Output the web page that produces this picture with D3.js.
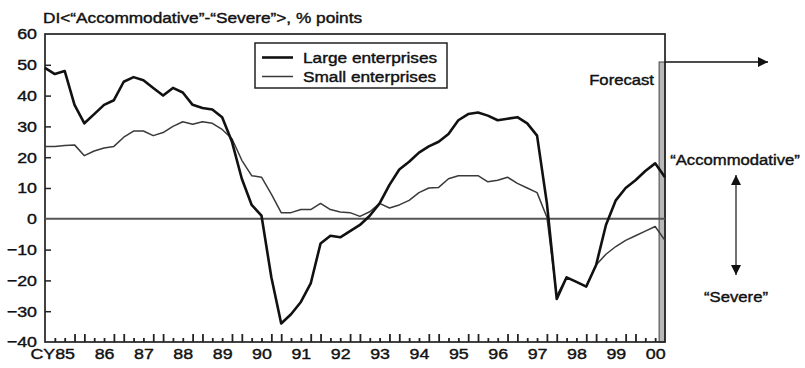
<!DOCTYPE html>
<html>
<head>
<meta charset="utf-8">
<script src="https://cdn.jsdelivr.net/npm/d3@7"></script>
<style>
  body { margin: 0; background: #fff; }
  svg { display: block; }
  text { font-family: Arial, "Liberation Sans", Helvetica, sans-serif; fill: #111; stroke: #111; stroke-width: 0.4px; }
</style>
</head>
<body>
<svg id="chart" width="805" height="368"></svg>
<script>
// Lending attitude DI of financial institutions, quarterly, CY1985 Q1 to 2000 Q4 (last point is a forecast)
const yearLabels = ["CY85", "86", "87", "88", "89", "90", "91", "92", "93", "94", "95", "96", "97", "98", "99", "00"];
const yTicks = [-40, -30, -20, -10, 0, 10, 20, 30, 40, 50, 60];
const seriesNames = ["Large enterprises", "Small enterprises"];

const large = [
  49, 47, 48, 37, 31, 34, 37, 38.5,
  44.5, 46, 45, 42.5, 40, 42.5, 41, 37,
  36, 35.5, 33, 25, 13, 4.5, 1, -19,
  -34, -31, -27, -21, -8, -5.5, -6, -4,
  -2, 1, 5, 11, 16, 18.5, 21.5, 23.5,
  25, 27.5, 32, 34, 34.5, 33.5, 32, 32.5,
  33, 31, 27, 5, -26, -19, -20.5, -22,
  -15, -2, 6, 10, 12.5, 15.5, 18, 13.5
];
const small = [
  23.5, 23.5, 23.8, 24, 20.5, 22, 23, 23.5,
  26.5, 28.5, 28.5, 27, 28, 30, 31.5, 30.7,
  31.5, 31, 29, 26, 19, 14, 13.5, 8,
  2, 2, 3, 3, 5, 3, 2.2, 2,
  0.8, 2.3, 5, 3.5, 4.5, 6, 8.5, 10,
  10.2, 13, 14, 14, 14, 12, 12.5, 13.5,
  11.5, 10, 8.5, 0.5, -25, -19, -20.5, -22,
  -15, -11.5, -9, -7, -5.5, -4, -2.5, -7
];

const time = large.map((_, i) => 1985 + i / 4);   // survey quarter of each value
const SX = 1.15;                                    // horizontal stretch of lettering

const svg = d3.select("#chart");
const x = d3.scaleLinear().domain([1985, 2000.75]).range([45, 665]);
const y = d3.scaleLinear().domain([-40, 60]).range([342, 34]);

// helper: text with a horizontal stretch anchored at (px, py)
function label(px, py, str, size, anchor) {
  svg.append("g").attr("transform", `translate(${px},${py})`)
    .append("text")
    .attr("transform", `scale(${SX},1)`)
    .attr("text-anchor", anchor || "start")
    .attr("font-size", size)
    .text(str);
}

// title
label(43, 23, "DI<\u201CAccommodative\u201D-\u201CSevere\u201D>, % points", 15);

// forecast shading bar
svg.append("rect")
  .attr("x", x(2000.6)).attr("y", 62)
  .attr("width", x(2000.75) - x(2000.6)).attr("height", y(-40) - 62)
  .attr("fill", "#b8b8b8").attr("stroke", "#444").attr("stroke-width", 1);

// frame
svg.append("rect")
  .attr("x", x(1985)).attr("y", y(60))
  .attr("width", x(2000.75) - x(1985)).attr("height", y(-40) - y(60))
  .attr("fill", "none").attr("stroke", "#222").attr("stroke-width", 1.7);

// zero line
svg.append("line")
  .attr("x1", x(1985)).attr("x2", x(2000.75))
  .attr("y1", y(0)).attr("y2", y(0))
  .attr("stroke", "#555").attr("stroke-width", 2);

// y axis: inner ticks and labels
const yInner = svg.append("g").attr("transform", `translate(${x(1985)},0)`)
  .call(d3.axisRight(y).tickValues(yTicks.filter(v => v > -40 && v < 60 && v !== 0)).tickSize(6).tickFormat(""));
yInner.select(".domain").remove();
yInner.selectAll("line").attr("stroke", "#222").attr("stroke-width", 1.5);

const yLab = svg.append("g").attr("transform", `translate(${x(1985)},0)`)
  .call(d3.axisLeft(y).tickValues(yTicks).tickSize(0).tickPadding(7));
yLab.select(".domain").remove();
yLab.selectAll("text").attr("font-size", 15.5).attr("font-family", null)
  .attr("transform", `scale(${SX},1)`);

// x axis: quarterly ticks, taller on the second half of each year
const qTimes = d3.range(1, 63).map(k => 1985 + k / 4);
const shortQ = qTimes.filter(t => { const f = Math.round((t % 1) * 4); return f === 1 || f === 2; });
const tallQ = qTimes.filter(t => { const f = Math.round((t % 1) * 4); return f === 3 || f === 0; });
[[shortQ, 4], [tallQ, 8]].forEach(([vals, len]) => {
  const g = svg.append("g").attr("transform", `translate(0,${y(-40)})`)
    .call(d3.axisTop(x).tickValues(vals).tickSize(len).tickFormat(""));
  g.select(".domain").remove();
  g.selectAll("line").attr("stroke", "#222").attr("stroke-width", 1.8);
});

const xLab = svg.append("g").attr("transform", `translate(0,${y(-40)})`)
  .call(d3.axisBottom(x).tickValues(yearLabels.map((_, i) => 1985.5 + i))
    .tickSize(0).tickPadding(6).tickFormat((d, i) => yearLabels[i]));
xLab.select(".domain").remove();
xLab.selectAll("text").attr("font-size", 15.5).attr("font-family", null)
  .attr("transform", `scale(${SX},1)`);
xLab.selectAll("text").filter((d, i) => i === 0)
  .attr("text-anchor", "end").attr("x", 8.5);

// series
const line = d3.line().x((d, i) => x(time[i])).y(d => y(d));
svg.append("path").datum(small).attr("d", line)
  .attr("fill", "none").attr("stroke", "#3a3a3a").attr("stroke-width", 1.5)
  .attr("stroke-linejoin", "round");
svg.append("path").datum(large).attr("d", line)
  .attr("fill", "none").attr("stroke", "#111").attr("stroke-width", 2.6)
  .attr("stroke-linejoin", "round");

// legend
svg.append("rect").attr("x", 255).attr("y", 43).attr("width", 192).attr("height", 45)
  .attr("fill", "#fff").attr("stroke", "#222").attr("stroke-width", 1.5);
[[57.5, 2.6, "#111"], [76.5, 1.5, "#3a3a3a"]].forEach(([ly, w, c], i) => {
  svg.append("line").attr("x1", 262).attr("x2", 293).attr("y1", ly).attr("y2", ly)
    .attr("stroke", c).attr("stroke-width", w);
  label(303, ly + 5, seriesNames[i], 15);
});

// arrowheads
const defs = svg.append("defs");
defs.append("marker").attr("id", "head").attr("viewBox", "0 0 10 10")
  .attr("refX", 10).attr("refY", 5).attr("markerWidth", 10).attr("markerHeight", 10)
  .attr("markerUnits", "userSpaceOnUse").attr("orient", "auto-start-reverse")
  .append("path").attr("d", "M0,0L10,5L0,10Z").attr("fill", "#111");

// forecast pointer
svg.append("line").attr("x1", x(2000.75)).attr("x2", 768).attr("y1", 62).attr("y2", 62)
  .attr("stroke", "#111").attr("stroke-width", 1.5).attr("marker-end", "url(#head)");
label(654, 85, "Forecast", 14.5, "end");

// direction annotation
label(735, 165, "\u201CAccommodative\u201D", 14.5, "middle");
svg.append("line").attr("x1", 736).attr("x2", 736).attr("y1", 175).attr("y2", 275)
  .attr("stroke", "#444").attr("stroke-width", 1.5)
  .attr("marker-start", "url(#head)").attr("marker-end", "url(#head)");
label(736, 302, "\u201CSevere\u201D", 14.5, "middle");
</script>
</body>
</html>
